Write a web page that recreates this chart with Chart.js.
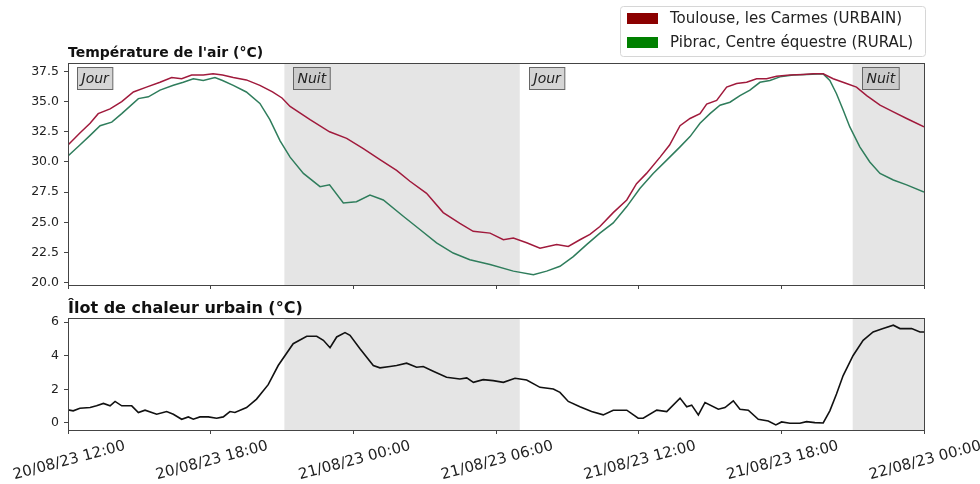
<!DOCTYPE html>
<html lang="fr">
<head>
<meta charset="utf-8">
<title>Îlot de chaleur urbain - Toulouse</title>
<script src="https://cdn.jsdelivr.net/npm/chart.js@4.4.1/dist/chart.umd.min.js"></script>
<style>
  body { margin: 0; background: #fff; }
  #wrap { position: relative; width: 980px; height: 484px; }
  #chartTemp { position: absolute; left: 0; top: 0; }
  #chartIlot { position: absolute; left: 0; top: 290px; }
</style>
</head>
<body>
<div id="wrap">
  <canvas id="chartTemp" width="980" height="290"></canvas>
  <canvas id="chartIlot" width="980" height="194"></canvas>
</div>
<script>
// heures écoulées depuis le 20/08/23 12:00
const ticksHeures = [0, 6, 12, 18, 24, 30, 36];
const etiquettesX = ['20/08/23 12:00', '20/08/23 18:00', '21/08/23 00:00', '21/08/23 06:00',
    '21/08/23 12:00', '21/08/23 18:00', '22/08/23 00:00'];

const ticksTemp = [20, 22.5, 25, 27.5, 30, 32.5, 35, 37.5];
const ticksIlot = [0, 2, 4, 6];

// périodes jour / nuit
const periodes = ['Jour', 'Nuit', 'Jour', 'Nuit'];
const debutsPeriode = [0, 9.1, 19.0, 33.0];
const debutsNuit = [9.1, 33.0];
const finsNuit = [19.0, 36];

// Toulouse, les Carmes (URBAIN)
const heuresUrbain = [0, 0.5, 0.93, 1.27, 1.77, 2.26, 2.75, 3.3, 3.87, 4.36, 4.78, 5.2, 5.69, 6.1, 6.5,
    6.95, 7.5, 8.07, 8.6, 9.0, 9.34, 10.18, 11.0, 11.72, 12.42, 13.12, 13.82, 14.38, 15.08, 15.78,
    16.48, 17.04, 17.75, 18.31, 18.73, 19.29, 19.85, 20.55, 21.04, 21.53, 21.95, 22.37, 22.93, 23.5, 23.91,
    24.33, 24.9, 25.3, 25.74, 26.16, 26.58, 26.86, 27.28, 27.7, 28.12, 28.54, 28.96, 29.38, 29.8, 30.36,
    30.92, 31.34, 31.76, 32.18, 32.74, 33.16, 33.59, 34.15, 34.71, 35.27, 36];
const tempUrbain = [31.4, 32.4, 33.2, 34.0, 34.4, 35.0, 35.8, 36.2, 36.6, 37.0, 36.9, 37.2, 37.2, 37.3, 37.2,
    37.0, 36.8, 36.35, 35.8, 35.3, 34.6, 33.5, 32.5, 31.95, 31.1, 30.2, 29.3, 28.4, 27.4, 25.8,
    24.9, 24.25, 24.1, 23.55, 23.7, 23.3, 22.85, 23.15, 23.0, 23.55, 24.0, 24.65, 25.8, 26.85, 28.2,
    29.05, 30.4, 31.4, 33.0, 33.6, 34.0, 34.8, 35.1, 36.2, 36.5, 36.6, 36.9, 36.9, 37.1, 37.2,
    37.25, 37.3, 37.3, 36.9, 36.5, 36.2, 35.5, 34.7, 34.15, 33.6, 32.9];

// Pibrac, Centre équestre (RURAL)
const heuresRural = [0, 0.5, 0.93, 1.35, 1.84, 2.26, 2.96, 3.38, 3.87, 4.43, 4.85, 5.27, 5.69, 6.18, 6.5,
    6.95, 7.5, 8.07, 8.49, 8.92, 9.34, 9.9, 10.6, 11.0, 11.58, 12.13, 12.7, 13.26, 14.1, 14.8,
    15.5, 16.2, 16.9, 17.75, 18.73, 19.57, 20.13, 20.69, 21.25, 21.81, 22.37, 22.93, 23.5, 24.05, 24.61,
    25.18, 25.74, 26.16, 26.58, 27.0, 27.42, 27.84, 28.26, 28.68, 29.1, 29.52, 29.94, 30.5, 31.06, 31.76,
    32.04, 32.32, 32.6, 32.88, 33.3, 33.72, 34.15, 34.71, 35.27, 36];
const tempRural = [30.5, 31.4, 32.2, 33.0, 33.3, 34.0, 35.25, 35.4, 35.95, 36.35, 36.6, 36.9, 36.75, 37.0, 36.75,
    36.35, 35.8, 34.85, 33.5, 31.75, 30.4, 29.05, 27.95, 28.1, 26.6, 26.7, 27.25, 26.85, 25.5, 24.4,
    23.3, 22.45, 21.9, 21.5, 20.95, 20.65, 20.95, 21.35, 22.15, 23.15, 24.1, 24.95, 26.3, 27.8, 29.05,
    30.15, 31.25, 32.1, 33.2, 34.0, 34.7, 34.95, 35.5, 35.95, 36.6, 36.75, 37.05, 37.2, 37.25, 37.3,
    36.75, 35.65, 34.3, 32.9, 31.25, 30.0, 29.05, 28.5, 28.1, 27.5];

// îlot de chaleur urbain
const heuresIlot = [0, 0.22, 0.5, 0.93, 1.2, 1.49, 1.77, 1.98, 2.26, 2.68, 2.96, 3.24, 3.73, 4.15, 4.43,
    4.78, 5.06, 5.27, 5.55, 5.9, 6.25, 6.53, 6.81, 7.02, 7.51, 7.93, 8.42, 8.84, 9.47, 10.04,
    10.46, 10.74, 11.02, 11.3, 11.65, 11.86, 12.28, 12.84, 13.12, 13.54, 13.82, 14.24, 14.66, 14.94, 15.36,
    15.92, 16.48, 16.77, 17.05, 17.46, 17.88, 18.31, 18.8, 19.29, 19.85, 20.41, 20.69, 21.04, 21.53, 22.02,
    22.51, 22.93, 23.5, 23.98, 24.19, 24.76, 25.18, 25.74, 26.02, 26.23, 26.51, 26.79, 27.35, 27.63, 27.98,
    28.26, 28.61, 29.03, 29.45, 29.77, 30.01, 30.36, 30.78, 31.06, 31.41, 31.76, 32.04, 32.32, 32.6, 33.02,
    33.44, 33.86, 34.28, 34.71, 34.99, 35.48, 35.83, 36];
const valeursIlot = [0.78, 0.72, 0.88, 0.92, 1.02, 1.16, 1.02, 1.28, 1.02, 1.02, 0.62, 0.76, 0.52, 0.68, 0.52,
    0.22, 0.36, 0.22, 0.36, 0.36, 0.28, 0.36, 0.68, 0.62, 0.92, 1.42, 2.28, 3.42, 4.72, 5.16,
    5.16, 4.92, 4.48, 5.12, 5.38, 5.22, 4.42, 3.42, 3.28, 3.36, 3.42, 3.56, 3.32, 3.36, 3.08,
    2.72, 2.62, 2.68, 2.42, 2.58, 2.52, 2.42, 2.66, 2.56, 2.12, 2.02, 1.82, 1.28, 0.96, 0.68,
    0.48, 0.76, 0.76, 0.28, 0.28, 0.76, 0.68, 1.48, 0.96, 1.06, 0.48, 1.22, 0.82, 0.92, 1.32,
    0.82, 0.76, 0.22, 0.12, -0.12, 0.06, -0.02, -0.02, 0.08, 0.02, 0.0, 0.72, 1.72, 2.82, 4.02,
    4.92, 5.42, 5.62, 5.82, 5.62, 5.62, 5.42, 5.42];

Chart.defaults.font.family = '"DejaVu Sans", sans-serif';
Chart.defaults.color = '#222';

const points = (heures, valeurs) => heures.map((h, i) => ({ x: h, y: valeurs[i] }));

// fond de nuit, cadre, titres, étiquettes Jour/Nuit et légende
const decor = {
    id: 'decor',
    beforeDatasetsDraw(chart) {
        const { ctx, chartArea: a, scales: { x } } = chart;
        ctx.save();
        ctx.fillStyle = 'rgba(0, 0, 0, 0.1)';
        debutsNuit.forEach((d, i) => {
            const x0 = x.getPixelForValue(d);
            const x1 = x.getPixelForValue(finsNuit[i]);
            ctx.fillRect(x0, a.top, x1 - x0, a.bottom - a.top);
        });
        ctx.restore();
    },
    afterDraw(chart, args, opts) {
        const { ctx, chartArea: a, scales: { x } } = chart;
        ctx.save();

        ctx.strokeStyle = '#444';
        ctx.lineWidth = 1;
        ctx.strokeRect(a.left + 0.5, a.top + 0.5, a.right - a.left, a.bottom - a.top);

        ctx.fillStyle = '#111';
        ctx.font = `bold ${opts.tailleTitre}px "DejaVu Sans"`;
        ctx.textBaseline = 'alphabetic';
        ctx.textAlign = 'left';
        ctx.fillText(opts.titre, a.left, opts.ligneTitre);

        if (opts.periodes) {
            ctx.font = 'italic 14px "DejaVu Sans"';
            ctx.textBaseline = 'middle';
            periodes.forEach((p, i) => {
                const x0 = Math.round(x.getPixelForValue(debutsPeriode[i])) + 9.5;
                const w = ctx.measureText(p).width + 8;
                ctx.fillStyle = 'rgba(185, 185, 185, 0.6)';
                ctx.fillRect(x0, a.top + 4.5, w, 22);
                ctx.strokeStyle = '#666';
                ctx.strokeRect(x0, a.top + 4.5, w, 22);
                ctx.fillStyle = '#222';
                ctx.fillText(p, x0 + 4, a.top + 16);
            });
        }

        if (opts.legende) {
            ctx.fillStyle = 'rgba(255, 255, 255, 0.85)';
            ctx.strokeStyle = '#d6d6d6';
            ctx.beginPath();
            ctx.roundRect(620.5, 6.5, 305, 50, 3);
            ctx.fill();
            ctx.stroke();
            ctx.font = '15px "DejaVu Sans"';
            ctx.textBaseline = 'middle';
            chart.data.datasets.forEach((ds, i) => {
                const y = 13 + i * 24;
                ctx.fillStyle = ds.backgroundColor;
                ctx.fillRect(627, y, 31, 11);
                ctx.fillStyle = '#222';
                ctx.fillText(ds.label, 670, y + 6);
            });
        }
        ctx.restore();
    }
};

const axeY = (min, max, ticks, format) => ({
    min: min,
    max: max,
    afterBuildTicks: axis => { axis.ticks = ticks.map(v => ({ value: v })); },
    afterFit: axis => {
        axis.width = 68;
        axis.paddingTop = 0;
        axis.paddingBottom = 0;
    },
    ticks: { callback: format, font: { size: 12.5 }, color: '#222', padding: 5 },
    grid: { drawOnChartArea: false, tickLength: 4, color: '#444' },
    border: { display: false }
});

const axeX = (hauteur, avecEtiquettes) => ({
    type: 'linear',
    min: 0,
    max: 36,
    afterBuildTicks: axis => { axis.ticks = ticksHeures.map(v => ({ value: v })); },
    afterFit: axis => {
        axis.height = hauteur;
        axis.paddingLeft = 0;
        axis.paddingRight = 0;
    },
    ticks: {
        display: avecEtiquettes,
        autoSkip: false,
        minRotation: 15,
        maxRotation: 15,
        labelOffset: 57,
        padding: 3,
        font: { size: 15 },
        color: '#222',
        callback: v => etiquettesX[ticksHeures.indexOf(v)]
    },
    grid: { drawOnChartArea: false, tickLength: 4, color: '#444' },
    border: { display: false }
});

new Chart(document.getElementById('chartTemp'), {
    type: 'line',
    data: {
        datasets: [{
            label: 'Toulouse, les Carmes (URBAIN)',
            data: points(heuresUrbain, tempUrbain),
            borderColor: '#a01a3c',
            backgroundColor: '#8b0000',
            borderWidth: 1.5,
            pointRadius: 0,
            tension: 0
        }, {
            label: 'Pibrac, Centre équestre (RURAL)',
            data: points(heuresRural, tempRural),
            borderColor: '#2f7d5c',
            backgroundColor: '#008000',
            borderWidth: 1.5,
            pointRadius: 0,
            tension: 0
        }]
    },
    options: {
        responsive: false,
        animation: false,
        events: [],
        layout: { padding: { left: 0, top: 63, right: 56, bottom: 0 } },
        scales: {
            x: axeX(5, false),
            y: axeY(19.8, 38.2, ticksTemp, v => v.toFixed(1))
        },
        plugins: {
            legend: { display: false },
            tooltip: { enabled: false },
            decor: { titre: "Température de l'air (°C)", tailleTitre: 14, ligneTitre: 57, periodes: true, legende: true }
        }
    },
    plugins: [decor]
});

new Chart(document.getElementById('chartIlot'), {
    type: 'line',
    data: {
        datasets: [{
            label: 'Îlot de chaleur urbain',
            data: points(heuresIlot, valeursIlot),
            borderColor: '#111',
            borderWidth: 1.6,
            pointRadius: 0,
            tension: 0
        }]
    },
    options: {
        responsive: false,
        animation: false,
        events: [],
        layout: { padding: { left: 0, top: 28, right: 56, bottom: 0 } },
        scales: {
            x: axeX(54, true),
            y: axeY(-0.42, 6.25, ticksIlot, v => String(v))
        },
        plugins: {
            legend: { display: false },
            tooltip: { enabled: false },
            decor: { titre: 'Îlot de chaleur urbain (°C)', tailleTitre: 16, ligneTitre: 23, periodes: false, legende: false }
        }
    },
    plugins: [decor]
});
</script>
</body>
</html>
